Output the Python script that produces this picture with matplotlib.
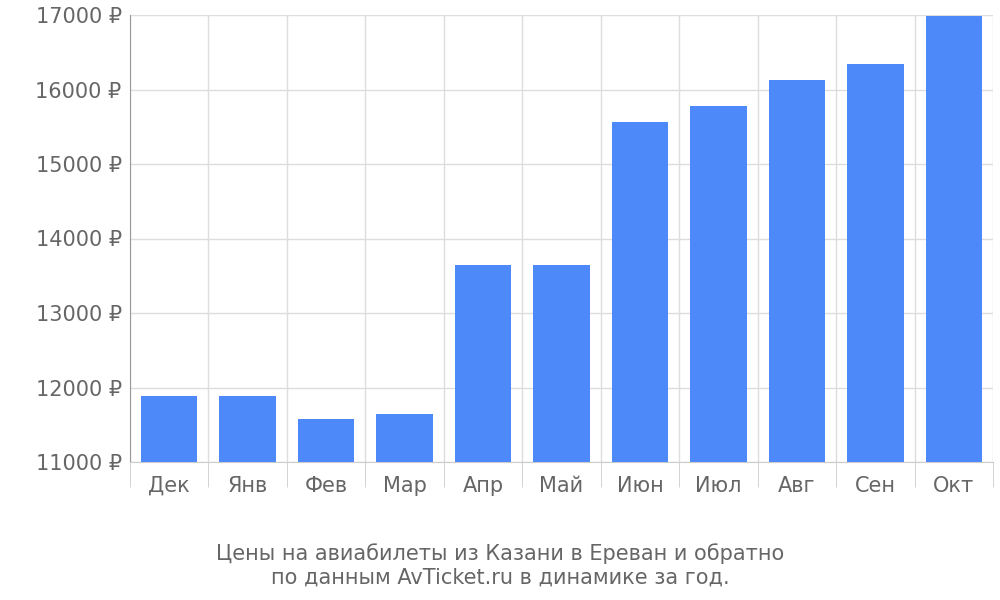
import matplotlib.pyplot as plt
import numpy as np

months = ["Дек", "Янв", "Фев", "Мар", "Апр", "Май", "Июн", "Июл", "Авг", "Сен", "Окт"]
prices = [11890, 11890, 11577, 11644, 13644, 13644, 15560, 15775, 16125, 16340, 16985]
yticks = [11000, 12000, 13000, 14000, 15000, 16000, 17000]

fig = plt.figure(figsize=(10, 6), dpi=100)
ax = fig.add_axes([0.13, 0.23, 0.863, 0.745])

x = np.arange(len(months))
ax.bar(x, np.array(prices) - 11000, bottom=11000, width=0.72, color="#4d89f9", zorder=3)

ax.set_xlim(-0.5, len(months) - 0.5)
ax.set_ylim(11000, 17000)
ax.set_yticks(yticks)
ax.set_yticklabels([f"{v} ₽" for v in yticks])
ax.set_xticks(x)
ax.set_xticklabels(months)
ax.set_xticks(np.arange(-0.5, len(months)), minor=True)

ax.grid(axis="y", color="#dddddd", linewidth=1, zorder=0)
ax.grid(axis="x", which="minor", color="#dddddd", linewidth=1, zorder=0)
ax.tick_params(axis="x", which="major", length=0, pad=10, labelsize=15, labelcolor="#666666")
ax.tick_params(axis="x", which="minor", length=18, color="#cccccc")
ax.tick_params(axis="y", length=0, pad=6, labelsize=15, labelcolor="#666666")

for s in ["top", "right"]:
    ax.spines[s].set_visible(False)
ax.spines["bottom"].set_color("#cccccc")
ax.spines["left"].set_color("#999999")
ax.spines["left"].set_bounds(11000, 17000)

fig.text(0.5, 0.058, "Цены на авиабилеты из Казани в Ереван и обратно\nпо данным AvTicket.ru в динамике за год.",
         ha="center", va="center", fontsize=15, color="#666666", linespacing=1.2)

fig.savefig("out.png")
